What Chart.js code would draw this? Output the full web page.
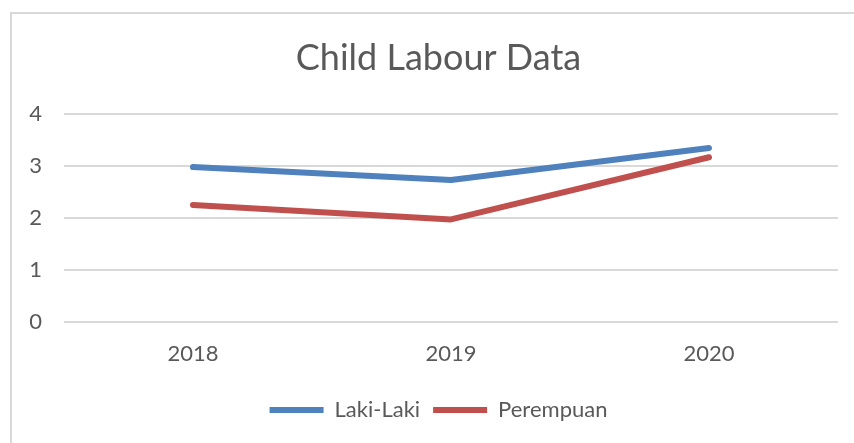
<!DOCTYPE html>
<html>
<head>
<meta charset="utf-8">
<script src="https://cdn.jsdelivr.net/npm/chart.js@4"></script>
<style>
  html, body { margin: 0; padding: 0; overflow: hidden; background: #fff; width: 854px; height: 443px; }
  #frame { position: absolute; left: 10px; top: 12px; width: 853px; height: 440px;
           border-left: 2px solid #d9d9d9; border-top: 2px solid #d9d9d9; }
  #myChart { position: absolute; left: 0; top: 0; }
</style>
</head>
<body>
<div id="frame"><canvas id="myChart" width="853" height="429"></canvas></div>
<script>
const years = ['2018', '2019', '2020'];
const lakiLaki = [2.98, 2.73, 3.35];
const perempuan = [2.25, 1.97, 3.17];
const yTicks = [0, 1, 2, 3, 4];

const textColor = '#595959';
const font = 'Lato, "Open Sans", sans-serif';

const data = {
  labels: years,
  datasets: [{
    label: 'Laki-Laki',
    data: lakiLaki,
    borderColor: '#4f81bd',
    backgroundColor: '#4f81bd',
    borderWidth: 6,
    borderCapStyle: 'round',
    borderJoinStyle: 'round',
    pointRadius: 0,
    tension: 0
  }, {
    label: 'Perempuan',
    data: perempuan,
    borderColor: '#c0504d',
    backgroundColor: '#c0504d',
    borderWidth: 6,
    borderCapStyle: 'round',
    borderJoinStyle: 'round',
    pointRadius: 0,
    tension: 0
  }]
};

const config = {
  type: 'line',
  data,
  options: {
    responsive: false,
    animation: false,
    devicePixelRatio: 1,
    layout: { padding: { left: 0, right: 0, top: 0, bottom: 12 } },
    scales: {
      y: {
        min: yTicks[0],
        max: yTicks[yTicks.length - 1],
        afterBuildTicks: (scale) => { scale.ticks = yTicks.map(v => ({ value: v })); },
        afterFit: (scale) => { scale.width = 52; },
        border: { display: false },
        grid: { color: '#d9d9d9', lineWidth: 2, drawTicks: false },
        ticks: { color: textColor, font: { family: font, size: 22 }, padding: 22 }
      },
      // empty right-hand spacer so the title stays centred on the whole frame
      yRight: {
        position: 'right',
        afterFit: (scale) => { scale.width = 27; },
        border: { display: false },
        grid: { display: false, drawTicks: false },
        ticks: { display: false }
      },
      x: {
        offset: true,
        border: { display: false },
        grid: { display: false, drawTicks: false },
        ticks: { color: textColor, font: { family: font, size: 22 }, padding: 19 }
      }
    },
    plugins: {
      title: {
        display: true,
        text: 'Child Labour Data',
        color: textColor,
        font: { family: font, size: 36, weight: 'normal' },
        padding: { top: 23, bottom: 34 }
      },
      legend: {
        position: 'bottom',
        labels: {
          color: textColor,
          font: { family: font, size: 22 },
          usePointStyle: true,
          pointStyle: 'line',
          pointStyleWidth: 54,
          padding: 13
        }
      },
      tooltip: { enabled: false }
    }
  }
};

const myChart = new Chart(document.getElementById('myChart'), config);
</script>
</body>
</html>
